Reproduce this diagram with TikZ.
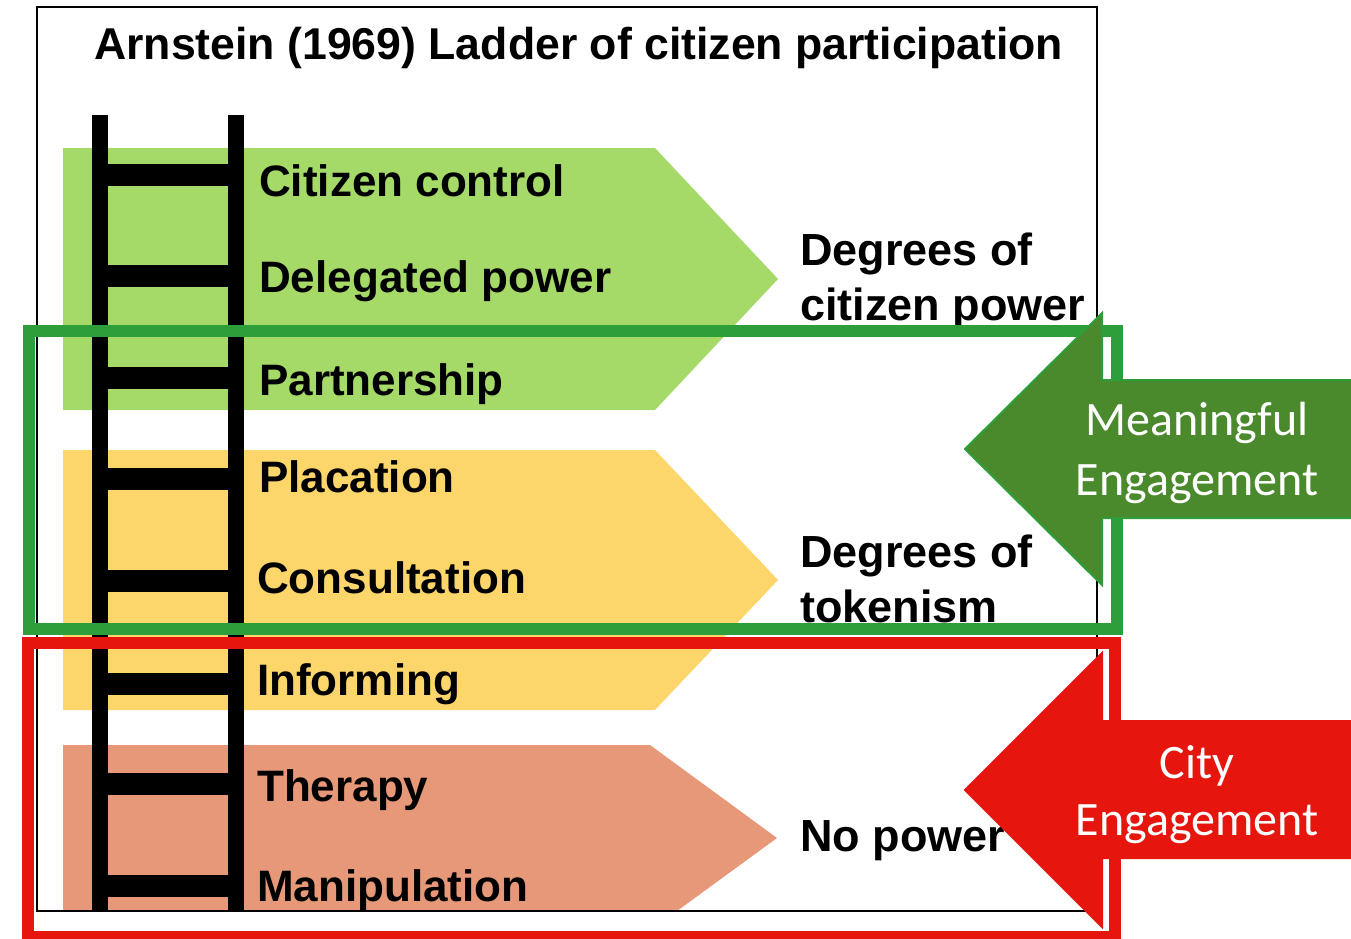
\documentclass[tikz,border=0pt]{standalone}
\usepackage{fontspec}
\setmainfont{Liberation Sans}
\newfontfamily\calibri{Carlito}

\definecolor{powergreen}{RGB}{166,218,104}
\definecolor{tokenyellow}{RGB}{252,214,106}
\definecolor{nopowersalmon}{RGB}{230,152,120}
\definecolor{boxgreen}{RGB}{46,158,58}
\definecolor{meangreen}{RGB}{74,138,44}
\definecolor{cityred}{RGB}{230,22,14}

\begin{document}
\begin{tikzpicture}[x=1pt,y=-1pt,
  rail/.style={line width=16pt},
  rung/.style={line width=22pt},
  steplabel/.style={anchor=base west,inner sep=0pt,font=\fontsize{44}{50}\selectfont\bfseries},
  degreelabel/.style={anchor=base west,inner sep=0pt,font=\fontsize{45}{50}\selectfont\bfseries},
  engagebox/.style={line width=12pt},
  bigarrow/.style={line width=2pt,line join=miter},
  engagetext/.style={anchor=base,inner sep=0pt,text=white,font=\calibri\fontsize{48}{56}\selectfont}]
\useasboundingbox (0,0) rectangle (1351,939);

\fill[powergreen] (63,148) -- (655,148) -- (778,279) -- (655,410) -- (63,410) -- cycle;
\fill[tokenyellow] (63,450) -- (655,450) -- (778,580) -- (655,710) -- (63,710) -- cycle;
\fill[nopowersalmon] (63,745) -- (650,745) -- (777,838) -- (677,911) -- (63,911) -- cycle;

\foreach \x in {100,236}
  \draw[rail] (\x,115) -- (\x,911);
\foreach \y in {175,276,378,479,581,684,784,886}
  \draw[rung] (100,\y) -- (236,\y);

\node[steplabel] (citizen) at (259,196) {Citizen control};
\node[steplabel] (delegated) at (259,292) {Delegated power};
\node[steplabel] (partnership) at (259,395) {Partnership};
\node[steplabel] (placation) at (259,492) {Placation};
\node[steplabel] (consultation) at (257,593) {Consultation};
\node[steplabel] (informing) at (257,695) {Informing};
\node[steplabel] (therapy) at (257,801) {Therapy};
\node[steplabel] (manipulation) at (257,901) {Manipulation};

\node[anchor=base west,inner sep=0pt,font=\fontsize{44.6}{50}\selectfont\bfseries] (title) at (94,60) {Arnstein (1969) Ladder of citizen participation};

\draw[line width=2pt] (37,7) rectangle (1097,911);

\node[degreelabel] (powerdeg) at (800,265) {Degrees of};
\node[degreelabel] (powerdegb) at (800,320) {citizen power};
\node[degreelabel] (tokendeg) at (800,567) {Degrees of};
\node[degreelabel] (tokendegb) at (800,622) {tokenism};
\node[degreelabel] (nopower) at (800,851) {No power};

\draw[engagebox,boxgreen] (29,331) rectangle (1117,629);
\draw[engagebox,cityred] (28,643) rectangle (1115,937);

\draw[bigarrow,fill=meangreen,draw=boxgreen] (1353,380) -- (1102,380) -- (1102,313) -- (965,449) -- (1102,585) -- (1102,518) -- (1353,518);
\draw[bigarrow,fill=cityred,draw=cityred] (1353,721) -- (1102,721) -- (1102,653) -- (965,790) -- (1102,927) -- (1102,858) -- (1353,858) -- cycle;

\node[engagetext] (meaning) at (1197,435) {Meaningful};
\node[engagetext] (meaningb) at (1197,495) {Engagement};
\node[engagetext] (city) at (1197,778) {City};
\node[engagetext] (cityb) at (1197,835) {Engagement};
\end{tikzpicture}
\end{document}
